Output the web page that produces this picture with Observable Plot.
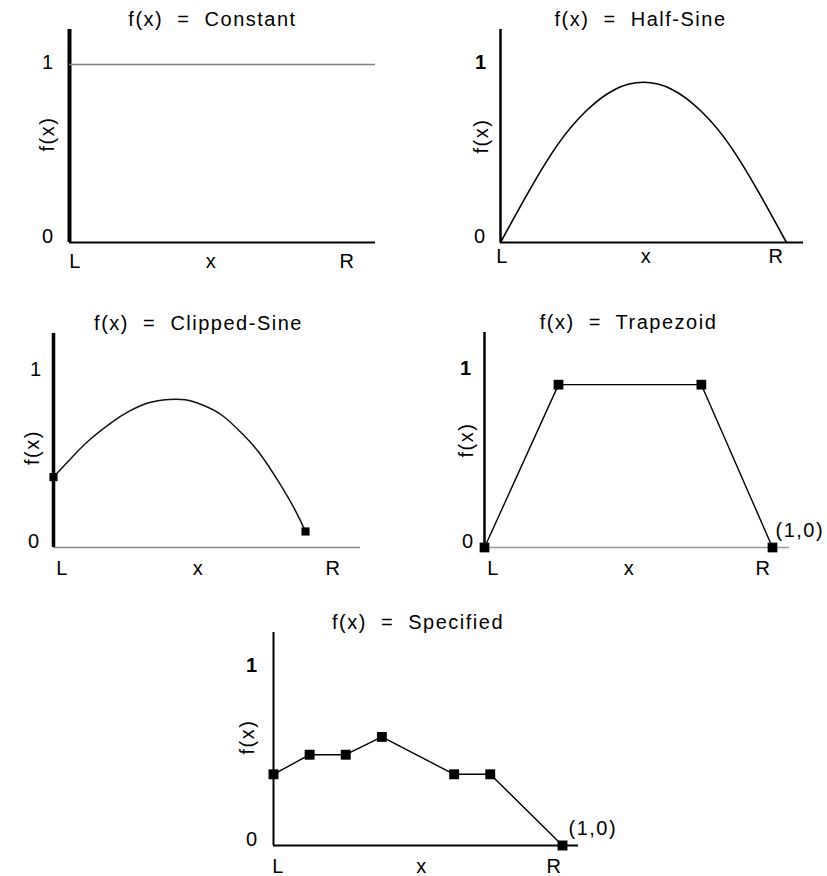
<!DOCTYPE html>
<html><head><meta charset="utf-8">
<script src="https://cdn.jsdelivr.net/npm/d3@7"></script>
<script src="https://cdn.jsdelivr.net/npm/@observablehq/plot@0.6"></script>
<style>
html,body{margin:0;padding:0;background:#fff;}
#chart{position:relative;width:827px;height:876px;overflow:hidden;}
#chart svg{position:absolute;}
</style></head><body><div id="chart"></div>
<script>
// ---- Data ----
const titles = ["f(x)  =  Constant", "f(x)  =  Half-Sine", "f(x)  =  Clipped-Sine", "f(x)  =  Trapezoid", "f(x)  =  Specified"];
const xTicks = [0, 0.5, 1];
const xTickLabels = ["L", "x", "R"];
const yTicks = [0, 1];
const yTickLabels = ["0", "1"];
const yAxisLabel = "f(x)";
const endPointLabel = "(1,0)";

const constantValue = [1];

const halfSineX = [0, 0.1, 0.2, 0.3, 0.4, 0.5, 0.6, 0.7, 0.8, 0.9, 1];
const halfSineY = [0, 0.29, 0.55, 0.74, 0.86, 0.9, 0.86, 0.74, 0.55, 0.29, 0];

const clippedSineX = [0, 0.064, 0.122, 0.202, 0.26, 0.328, 0.397, 0.455, 0.512, 0.582, 0.651, 0.708, 0.777, 0.834, 0.869];
const clippedSineY = [0.40, 0.513, 0.608, 0.712, 0.773, 0.822, 0.841, 0.839, 0.811, 0.750, 0.646, 0.541, 0.371, 0.21, 0.091];
const clippedSineMarked = [0, 14]; // indices of the marked end points

const trapezoidX = [0, 0.257, 0.753, 1];
const trapezoidY = [0, 0.92, 0.92, 0];

const specifiedX = [0, 0.125, 0.25, 0.375, 0.625, 0.75, 1];
const specifiedY = [0.40, 0.51, 0.51, 0.61, 0.40, 0.40, 0];

// ---- Layout ----
const FONT = "'Liberation Sans', Arial, Helvetica, sans-serif";
const container = document.getElementById("chart");
const pts = (X, Y) => X.map((x, i) => ({x, y: Y[i]}));

function panel(cfg, title, dataMarks) {
  const {box, x0, xR, xEnd, yTop, y1, y0} = cfg;
  const xmax = (xEnd - x0) / (xR - x0);
  const ymax = (y0 - yTop) / (y0 - y1);
  const marks = [
    Plot.ruleY([0], {stroke: cfg.xAxisColor, strokeWidth: cfg.xAxisW}),
    Plot.ruleX([0], {stroke: "#000", strokeWidth: cfg.yAxisW}),
    ...dataMarks,
    // y tick labels
    Plot.text([yTicks[0]], {y: d => d, text: d => yTickLabels[yTicks.indexOf(d)], frameAnchor: "left", textAnchor: "end", dx: -cfg.pad0, dy: -6}),
    Plot.text([yTicks[1]], {y: d => d, text: d => yTickLabels[yTicks.indexOf(d)], frameAnchor: "left", textAnchor: "end", dx: -cfg.pad1, dy: -2, fontWeight: cfg.oneBold ? "bold" : "normal"}),
    // x tick labels
    Plot.text([xTicks[0]], {x: d => d, text: d => xTickLabels[xTicks.indexOf(d)], frameAnchor: "bottom", textAnchor: "middle", lineAnchor: "middle", dx: cfg.dxL, dy: cfg.dyX}),
    Plot.text([xTicks[1]], {x: d => d, text: d => xTickLabels[xTicks.indexOf(d)], frameAnchor: "bottom", textAnchor: "middle", lineAnchor: "middle", dx: cfg.dxM, dy: cfg.dyX}),
    Plot.text([xTicks[2]], {x: d => d, text: d => xTickLabels[xTicks.indexOf(d)], frameAnchor: "bottom", textAnchor: "middle", lineAnchor: "middle", dx: cfg.dxR, dy: cfg.dyX}),
    // y axis label
    Plot.text([yAxisLabel], {text: d => d, frameAnchor: "left", rotate: -90, textAnchor: "middle", lineAnchor: "middle", dx: -cfg.dxLab, dy: cfg.dyLab}),
    // title
    Plot.text([title], {x: () => xTicks[1], text: d => d, frameAnchor: "top", textAnchor: "middle", lineAnchor: "middle", dx: cfg.dxT, dy: -10})
  ];
  const svg = Plot.plot({
    width: box[2], height: box[3],
    marginLeft: x0 - box[0], marginRight: box[0] + box[2] - xEnd,
    marginTop: yTop - box[1], marginBottom: box[1] + box[3] - y0,
    x: {domain: [0, xmax], axis: null},
    y: {domain: [0, ymax], axis: null},
    style: {fontFamily: FONT, fontSize: "20px", letterSpacing: "1.5px", background: "transparent", color: "#000", overflow: "visible"},
    marks
  });
  svg.style.left = box[0] + "px";
  svg.style.top = box[1] + "px";
  container.appendChild(svg);
}

const sq = (data, r) => Plot.dot(data, {x: "x", y: "y", symbol: "square", r, fill: "#000", stroke: "none"});

// Panel 1: Constant
panel({box: [0, 0, 414, 290], x0: 69, xR: 357, xEnd: 375, yTop: 29, y1: 64, y0: 242,
       xAxisColor: "#000", xAxisW: 2, yAxisW: 4, pad0: 15, pad1: 15, oneBold: false,
       dxL: 6, dxM: -2, dxR: -10, dyX: 19, dxLab: 22, dyLab: -2, dxT: -1},
  titles[0],
  [Plot.ruleY(constantValue, {y: d => d, stroke: "#808080", strokeWidth: 1.6})]);

// Panel 2: Half-Sine
panel({box: [414, 0, 413, 290], x0: 500, xR: 786, xEnd: 803, yTop: 29, y1: 64, y0: 242,
       xAxisColor: "#000", xAxisW: 2, yAxisW: 2.5, pad0: 14, pad1: 13, oneBold: true,
       dxL: 2, dxM: 3, dxR: -10, dyX: 14, dxLab: 19, dyLab: 0, dxT: -3},
  titles[1],
  [Plot.line(pts(halfSineX, halfSineY), {x: "x", y: "y", curve: "natural", stroke: "#000", strokeWidth: 1.6})]);

// Panel 3: Clipped-Sine
const clipped = pts(clippedSineX, clippedSineY);
panel({box: [0, 290, 414, 300], x0: 53, xR: 343, xEnd: 360, yTop: 333, y1: 371, y0: 547,
       xAxisColor: "#888", xAxisW: 1.5, yAxisW: 3.5, pad0: 13, pad1: 11, oneBold: false,
       dxL: 9, dxM: 0, dxR: -10, dyX: 21, dxLab: 21, dyLab: 7, dxT: 0},
  titles[2],
  [Plot.line(clipped, {x: "x", y: "y", curve: "natural", stroke: "#111", strokeWidth: 1.5}),
   sq(clippedSineMarked.map(i => clipped[i]), 4.6)]);

// Panel 4: Trapezoid
const trap = pts(trapezoidX, trapezoidY);
panel({box: [414, 290, 413, 300], x0: 484, xR: 772, xEnd: 789, yTop: 332, y1: 370, y0: 547,
       xAxisColor: "#999", xAxisW: 1.5, yAxisW: 2.5, pad0: 10, pad1: 12, oneBold: true,
       dxL: 9, dxM: 1, dxR: -9, dyX: 21, dxLab: 18, dyLab: 0, dxT: 0},
  titles[3],
  [Plot.line(trap, {x: "x", y: "y", stroke: "#000", strokeWidth: 1.4}),
   sq(trap, 5.5),
   Plot.text(trap.slice(-1), {x: "x", y: "y", text: () => endPointLabel, textAnchor: "start", lineAnchor: "middle", dx: 3, dy: -17})]);

// Panel 5: Specified
const spec = pts(specifiedX, specifiedY);
panel({box: [200, 590, 427, 286], x0: 273, xR: 562, xEnd: 578, yTop: 632, y1: 667, y0: 845,
       xAxisColor: "#000", xAxisW: 2, yAxisW: 2, pad0: 15, pad1: 15, oneBold: true,
       dxL: 5, dxM: 4, dxR: -8, dyX: 21, dxLab: 26, dyLab: -2, dxT: 0},
  titles[4],
  [Plot.line(spec, {x: "x", y: "y", stroke: "#000", strokeWidth: 1.4}),
   sq(spec, 5.6),
   Plot.text(spec.slice(-1), {x: "x", y: "y", text: () => endPointLabel, textAnchor: "start", lineAnchor: "middle", dx: 6, dy: -17})]);
</script>
</body></html>
